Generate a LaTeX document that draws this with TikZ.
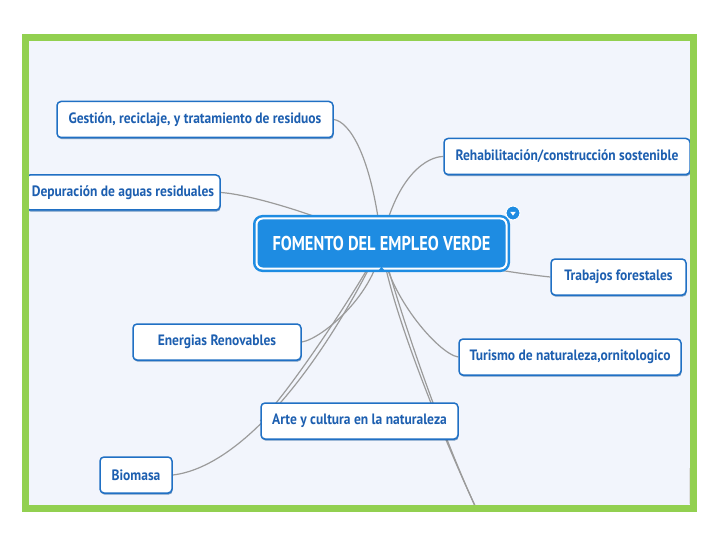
\documentclass[tikz,border=0pt]{standalone}
\usepackage{fontspec}
\newfontfamily\mapfont[FakeStretch=0.9]{PT Sans}
\newfontfamily\hubfont[FakeStretch=0.82]{PT Sans}
\usetikzlibrary{calc,shadows}
\pgfdeclarelayer{bg}
\pgfdeclarelayer{links}
\pgfsetlayers{bg,links,main}
\definecolor{framegreen}{RGB}{146,208,80}
\definecolor{pagebg}{RGB}{242,245,252}
\definecolor{hubblue}{RGB}{30,140,226}
\definecolor{boxblue}{RGB}{32,112,196}
\definecolor{txtblue}{RGB}{29,95,176}
\definecolor{linkgray}{RGB}{155,155,155}

\begin{document}
\begin{tikzpicture}[x=1pt, y=-1pt,
  topic/.style={draw=boxblue, line width=1.5pt, fill=white, rounded corners=4pt,
    text=txtblue, font=\mapfont\fontsize{15}{17}\selectfont\bfseries,
    minimum height=36pt, inner xsep=0pt,
    drop shadow={shadow xshift=0.6pt, shadow yshift=-1.6pt, fill=boxblue!80!black, opacity=0.6}},
  hub/.style={draw=hubblue, fill=hubblue, double=white, double distance=2pt,
    line width=2.5pt, rounded corners=6pt, text=white,
    font=\hubfont\fontsize{20}{22}\selectfont\bfseries,
    minimum width=250pt, minimum height=50pt},
  link/.style={draw=linkgray, line width=1.2pt}]
\useasboundingbox (0,0) rectangle (720,540);
\begin{pgfonlayer}{bg}
\fill[white] (0,0) rectangle (720,540);
\fill[pagebg] (25,37) rectangle (694,508);
\end{pgfonlayer}

% central topic
\node[hub] (ctr) at (381.5,243.5) {FOMENTO DEL EMPLEO VERDE};
\fill[hubblue] ($(ctr.south)+(-4,2)$) -- ($(ctr.south)+(4,2)$) -- ($(ctr.south)+(0,-3)$) -- cycle;
\node[circle, fill=hubblue, draw=white, line width=1pt, minimum size=14pt, inner sep=0pt] (tog) at (513,213) {};
\fill[white] ($(tog)+(-2.8,-1.2)$) -- ($(tog)+(2.8,-1.2)$) -- ($(tog)+(0,2.6)$) -- cycle;

% subtopics
\node[topic, minimum width=276pt] (gest) at (195,119.5) {Gestión, reciclaje, y tratamiento de residuos};
\node[topic, minimum width=246pt] (rehab) at (567,156.5) {Rehabilitación/construcción sostenible};
\node[topic, minimum width=194pt, minimum height=35pt] (depu) at (123,192.5) {Depuración de aguas residuales};
\node[topic, minimum width=135pt] (trab) at (618.5,277) {Trabajos forestales};
\node[topic, minimum width=168pt] (ener) at (217,342) {Energias Renovables};
\node[topic, minimum width=222pt] (turi) at (570,357) {Turismo de naturaleza,ornitologico};
\node[topic, minimum width=197pt] (arte) at (359.5,421) {Arte y cultura en la naturaleza};
\node[topic, minimum width=72pt] (bio) at (136,475) {Biomasa};

\coordinate (offa) at (476,508);

\begin{pgfonlayer}{links}
\draw[link] (gest.east) .. controls +(15,2) and +(-10,-90) .. (ctr.center);
\draw[link] (rehab.west) .. controls +(-15,0) and +(15,-70) .. (ctr.center);
\draw[link] (depu.east) .. controls +(30,2) and +(-60,-28) .. (ctr.center);
\draw[link] (trab.west) .. controls +(-20,-2) and +(60,20) .. (ctr.center);
\draw[link] (ener.east) .. controls +(20,-3) and +(-5,50) .. (ctr.center);
\draw[link] (turi.west) .. controls +(-20,-3) and +(5,50) .. (ctr.center);
\draw[link] (arte.west) .. controls +(30,-30) and +(-20,40) .. (ctr.center);
\draw[link] (bio.east) .. controls +(68,-8) and +(-61,126) .. (ctr.center);
\draw[link] (ctr.center) .. controls +(14,56) and +(-38,-82) .. (offa);
\draw[link] (ctr.center) .. controls +(6,56) and +(-38,-82) .. (offa);
\end{pgfonlayer}

\draw[black!12, line width=1pt] (689,468) -- (689,504);
% green frame
\draw[framegreen, line width=7pt] (25.5,37.5) rectangle (693.5,508.5);
\end{tikzpicture}
\end{document}
